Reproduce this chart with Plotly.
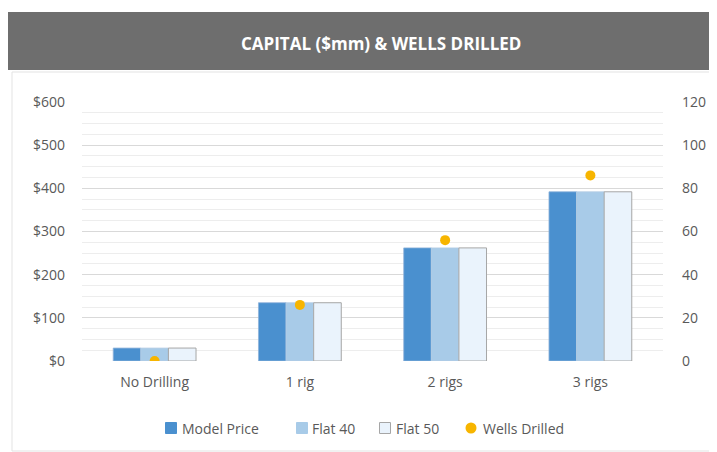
import plotly.graph_objects as go

categories = ["No Drilling", "1 rig", "2 rigs", "3 rigs"]
model_price = [30, 135, 262, 392]
flat_40 = [30, 135, 262, 392]
flat_50 = [30, 135, 262, 392]
wells_drilled = [0, 26, 56, 86]

series_names = ["Model Price", "Flat 40", "Flat 50", "Wells Drilled"]
series_colors = ["#4A90CF", "#A8CBE8", "#EAF3FC", "#F7B500"]

OFF = 8  # page body margin
W, H = 709, 444
L, R, T, B = 74, 54, 94, 91
pw, ph = W - L - R, H - T - B


def fx(x):
    return (x - OFF - L) / pw


def fy(y):
    return (H - B - (y - OFF)) / ph


font_fam = "'Open Sans', Lato, sans-serif"
grey_txt = "#595959"
fs = 14

fig = go.Figure()
fig.add_trace(go.Bar(name=series_names[0], x=categories, y=model_price,
                     marker=dict(color=series_colors[0], line=dict(color="#8FB3D9", width=0.8))))
fig.add_trace(go.Bar(name=series_names[1], x=categories, y=flat_40,
                     marker=dict(color=series_colors[1], line=dict(color="#B5CDE3", width=0.8))))
fig.add_trace(go.Bar(name=series_names[2], x=categories, y=flat_50,
                     marker=dict(color=series_colors[2], line=dict(color="#A6A6A6", width=1))))
fig.add_trace(go.Scatter(name=series_names[3], x=categories, y=wells_drilled, yaxis="y2",
                         mode="markers", marker=dict(color=series_colors[3], size=10)))

fig.update_layout(
    width=W, height=H,
    margin=dict(l=L, r=R, t=T, b=B, autoexpand=False),
    paper_bgcolor="white", plot_bgcolor="white",
    barmode="group", bargap=0.43, bargroupgap=0,
    font=dict(family=font_fam, size=fs, color=grey_txt),
    showlegend=False,
    xaxis=dict(showgrid=False, showline=False, ticks="", ticklabelstandoff=11,
               tickfont=dict(size=fs, color=grey_txt)),
    yaxis=dict(range=[0, 600], dtick=100, tickprefix="$", showgrid=True,
               gridcolor="#D9D9D9", gridwidth=1, zeroline=False, ticks="",
               ticklabelstandoff=16,
               minor=dict(dtick=25, showgrid=True, gridcolor="#EDEDED", gridwidth=1),
               tickfont=dict(size=fs, color=grey_txt)),
    yaxis2=dict(range=[0, 120], dtick=20, overlaying="y", side="right", showgrid=False,
                zeroline=False, ticks="", ticklabelstandoff=18,
                tickfont=dict(size=fs, color=grey_txt)),
)

# chart frame and header band
fig.add_shape(type="rect", xref="paper", yref="paper",
              x0=fx(12), x1=fx(716), y0=fy(451), y1=fy(72),
              line=dict(color="#E3E3E3", width=1), fillcolor="rgba(0,0,0,0)", layer="below")
fig.add_shape(type="rect", xref="paper", yref="paper",
              x0=fx(8), x1=fx(718), y0=fy(70), y1=fy(12),
              line=dict(width=0), fillcolor="#6E6E6E", layer="above")
fig.add_annotation(text="<b>CAPITAL ($mm) & WELLS DRILLED</b>", xref="paper", yref="paper",
                   x=fx(381), y=fy(43), showarrow=False, xanchor="center", yanchor="middle",
                   font=dict(family=font_fam, size=17, color="white"))

# custom legend
leg_y = 428
sym_x = [171, 302, 385, 471]
txt_x = [180, 310, 394, 481]
half = 5.5
for i, name in enumerate(series_names):
    if i < 3:
        fig.add_shape(type="rect", xref="paper", yref="paper",
                      x0=fx(sym_x[i] - half), x1=fx(sym_x[i] + half),
                      y0=fy(leg_y + half), y1=fy(leg_y - half),
                      fillcolor=series_colors[i],
                      line=dict(color="#A6A6A6" if i == 2 else series_colors[i], width=1))
    else:
        fig.add_shape(type="circle", xref="paper", yref="paper",
                      x0=fx(sym_x[i] - half), x1=fx(sym_x[i] + half),
                      y0=fy(leg_y + half), y1=fy(leg_y - half),
                      fillcolor=series_colors[i], line=dict(width=0))
    fig.add_annotation(text=name, xref="paper", yref="paper", x=fx(txt_x[i]), y=fy(leg_y),
                       xanchor="left", yanchor="middle", showarrow=False,
                       font=dict(size=fs, color=grey_txt))

fig.write_html("out.html")
